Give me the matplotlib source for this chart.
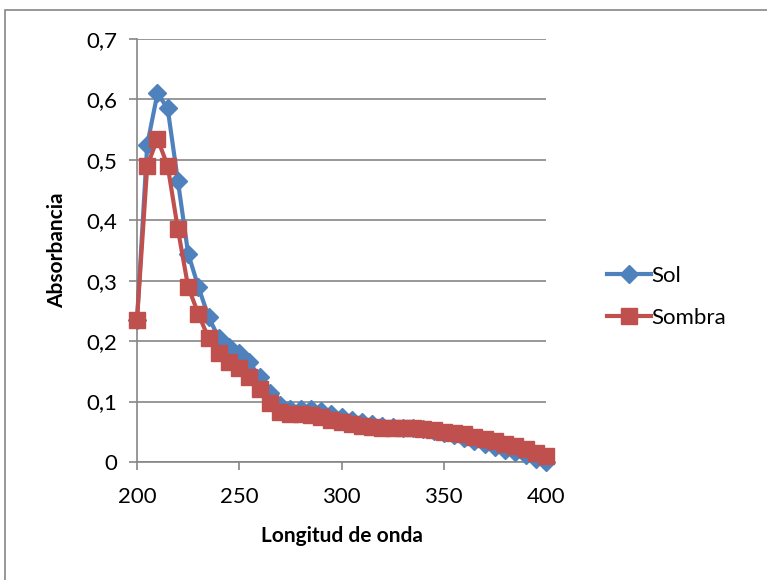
import matplotlib.pyplot as plt
from matplotlib.patches import Rectangle
from matplotlib.ticker import FuncFormatter

# wavelengths (nm), every 5 nm
longitud = list(range(200, 401, 5))

sol = [0.235, 0.525, 0.61, 0.585, 0.465, 0.345, 0.29, 0.24, 0.205, 0.19,
       0.18, 0.165, 0.14, 0.115, 0.095, 0.088, 0.088, 0.087, 0.085, 0.08,
       0.075, 0.07, 0.067, 0.063, 0.06, 0.058, 0.057, 0.056, 0.055, 0.052,
       0.048, 0.044, 0.04, 0.035, 0.03, 0.025, 0.02, 0.017, 0.012, 0.005,
       0.0]

sombra = [0.235, 0.49, 0.535, 0.49, 0.385, 0.29, 0.245, 0.205, 0.18, 0.165,
          0.155, 0.14, 0.12, 0.098, 0.082, 0.08, 0.079, 0.077, 0.074, 0.07,
          0.066, 0.063, 0.06, 0.058, 0.056, 0.056, 0.056, 0.056, 0.055, 0.053,
          0.05, 0.048, 0.046, 0.042, 0.038, 0.034, 0.03, 0.027, 0.022, 0.015,
          0.01]

plt.rcParams['font.family'] = ['Lato', 'DejaVu Sans']

fig = plt.figure(figsize=(7.67, 5.8), dpi=100)
fig.patches.append(Rectangle((5 / 767, -0.05), 1.1, 1.05 - 10 / 580, transform=fig.transFigure,
                             fill=False, edgecolor='#868686', linewidth=1.2))

ax = fig.add_axes([137 / 767, 1 - 462 / 580, 409 / 767, 423 / 580])

ax.plot(longitud, sol, color='#4F81BD', linewidth=3, marker='D', markersize=9,
        label='Sol', zorder=3, clip_on=False)
ax.plot(longitud, sombra, color='#C0504D', linewidth=3, marker='s', markersize=12,
        label='Sombra', zorder=4, clip_on=False)

ax.set_xlim(200, 400)
ax.set_ylim(0, 0.7)
ax.set_xticks([200, 250, 300, 350, 400])
ax.set_yticks([0, 0.1, 0.2, 0.3, 0.4, 0.5, 0.6, 0.7])
ax.yaxis.set_major_formatter(FuncFormatter(lambda v, p: '0' if v == 0 else f'{v:.1f}'.replace('.', ',')))

ax.grid(axis='y', color='#868686', linewidth=1.2)
ax.set_axisbelow(True)
for s in ['top', 'right']:
    ax.spines[s].set_visible(False)
for s in ['left', 'bottom']:
    ax.spines[s].set_color('#868686')
    ax.spines[s].set_linewidth(1.2)
ax.tick_params(colors='#868686', labelcolor='black', labelsize=16, length=6, width=1.2)
ax.tick_params(axis='y', pad=8)
ax.tick_params(axis='x', pad=12)

ax.set_xlabel('Longitud de onda', fontsize=15, fontweight='bold', labelpad=14)
ax.set_ylabel('Absorbancia', fontsize=15, fontweight='bold', labelpad=14)

ax.legend(loc='center left', bbox_to_anchor=(1.10, 0.39), frameon=False, fontsize=16,
          handlelength=2.0, handletextpad=0.0, labelspacing=1.0)

fig.savefig('out.png', dpi=100)
